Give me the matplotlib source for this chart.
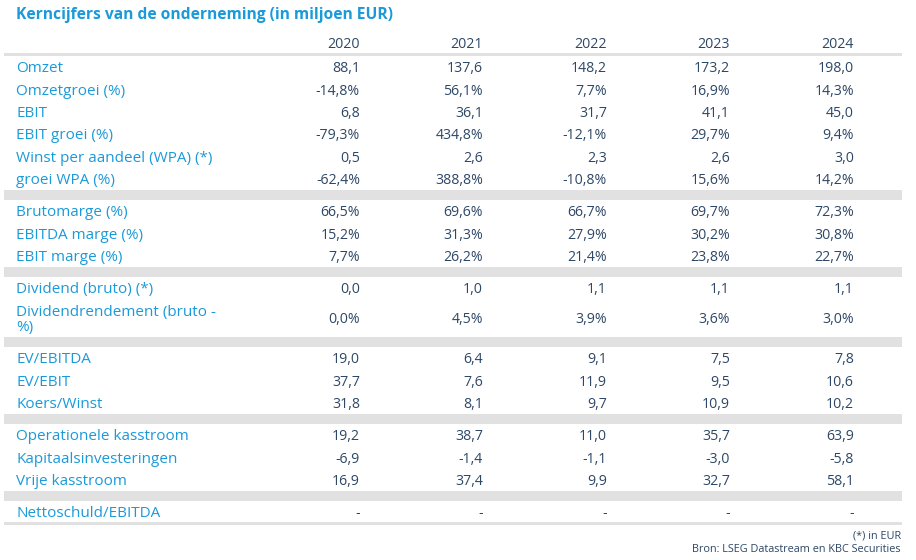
import matplotlib
matplotlib.use("Agg")
import matplotlib.pyplot as plt
from matplotlib.patches import Rectangle

plt.rcParams['font.family'] = ['Open Sans', 'DejaVu Sans']

title = "Kerncijfers van de onderneming (in miljoen EUR)"
years = ["2020", "2021", "2022", "2023", "2024"]

# groups of rows: (label, values, is_percent)
group1_labels = ["Omzet", "Omzetgroei (%)", "EBIT", "EBIT groei (%)",
                 "Winst per aandeel (WPA) (*)", "groei WPA (%)"]
omzet = [88.1, 137.6, 148.2, 173.2, 198.0]
omzetgroei = [-14.8, 56.1, 7.7, 16.9, 14.3]
ebit = [6.8, 36.1, 31.7, 41.1, 45.0]
ebit_groei = [-79.3, 434.8, -12.1, 29.7, 9.4]
wpa = [0.5, 2.6, 2.3, 2.6, 3.0]
groei_wpa = [-62.4, 388.8, -10.8, 15.6, 14.2]

group2_labels = ["Brutomarge (%)", "EBITDA marge (%)", "EBIT marge (%)"]
brutomarge = [66.5, 69.6, 66.7, 69.7, 72.3]
ebitda_marge = [15.2, 31.3, 27.9, 30.2, 30.8]
ebit_marge = [7.7, 26.2, 21.4, 23.8, 22.7]

group3_labels = ["Dividend (bruto) (*)", "Dividendrendement (bruto -\n%)"]
dividend = [0.0, 1.0, 1.1, 1.1, 1.1]
dividendrendement = [0.0, 4.5, 3.9, 3.6, 3.0]

group4_labels = ["EV/EBITDA", "EV/EBIT", "Koers/Winst"]
ev_ebitda = [19.0, 6.4, 9.1, 7.5, 7.8]
ev_ebit = [37.7, 7.6, 11.9, 9.5, 10.6]
koers_winst = [31.8, 8.1, 9.7, 10.9, 10.2]

group5_labels = ["Operationele kasstroom", "Kapitaalsinvesteringen", "Vrije kasstroom"]
op_kasstroom = [19.2, 38.7, 11.0, 35.7, 63.9]
kapitaal = [-6.9, -1.4, -1.1, -3.0, -5.8]
vrije_kasstroom = [16.9, 37.4, 9.9, 32.7, 58.1]

group6_labels = ["Nettoschuld/EBITDA"]
nettoschuld = [None, None, None, None, None]

footnotes = ["(*) in EUR", "Bron: LSEG Datastream en KBC Securities"]

groups = [
    list(zip(group1_labels, [omzet, omzetgroei, ebit, ebit_groei, wpa, groei_wpa],
             [False, True, False, True, False, True])),
    list(zip(group2_labels, [brutomarge, ebitda_marge, ebit_marge], [True, True, True])),
    list(zip(group3_labels, [dividend, dividendrendement], [False, True])),
    list(zip(group4_labels, [ev_ebitda, ev_ebit, koers_winst], [False, False, False])),
    list(zip(group5_labels, [op_kasstroom, kapitaal, vrije_kasstroom], [False, False, False])),
    list(zip(group6_labels, [nettoschuld], [False])),
]

def fmt(v, pct):
    if v is None:
        return "-"
    s = f"{v:.1f}".replace(".", ",")
    return s + "%" if pct else s

BLUE = "#1a9ad9"
NAVY = "#2d4766"
GRAY = "#e1e1e1"

W, H = 916, 560
fig = plt.figure(figsize=(W / 100, H / 100), dpi=100)
ax = fig.add_axes([0, 0, 1, 1])
ax.set_xlim(0, W)
ax.set_ylim(H, 0)
ax.axis("off")

x_label = 16
col_right = [360, 483, 607, 730, 854]
x_left_band, x_right_band = 4, 902
fs_val = 10.2
fs_lab = 11.0
dy = 1.8  # text baseline offset

ax.text(x_label, 15, title, color=BLUE, fontsize=11.25, fontweight="bold",
        va="center", ha="left")
for xr, yr in zip(col_right, years):
    ax.text(xr, 43 + dy, yr, color=NAVY, fontsize=fs_val, va="center", ha="right")

ax.add_patch(Rectangle((x_left_band, 52.5), x_right_band - x_left_band, 3.5,
                       color=GRAY, lw=0))

row_h = 22.3
double_h = 38
band_h = 10
top = 56
for gi, grp in enumerate(groups):
    if gi > 0:
        ax.add_patch(Rectangle((x_left_band, top), x_right_band - x_left_band, band_h,
                               color=GRAY, lw=0))
        top += band_h
    for label, vals, pct in grp:
        h = double_h if "\n" in label else row_h
        yc = top + h / 2 + dy
        ax.text(x_label, yc, label, color=BLUE, fontsize=fs_lab, va="center",
                ha="left", linespacing=1.05)
        for xr, v in zip(col_right, vals):
            ax.text(xr, yc, fmt(v, pct), color=NAVY, fontsize=fs_val, va="center", ha="right")
        top += h

ax.add_patch(Rectangle((x_left_band, top - 1), x_right_band - x_left_band, 3,
                       color=GRAY, lw=0))

ax.text(901, 536, footnotes[0], color=NAVY, fontsize=7.85, va="center", ha="right")
ax.text(901, 549, footnotes[1], color=NAVY, fontsize=7.85, va="center", ha="right")

fig.savefig("out.png", dpi=100)
